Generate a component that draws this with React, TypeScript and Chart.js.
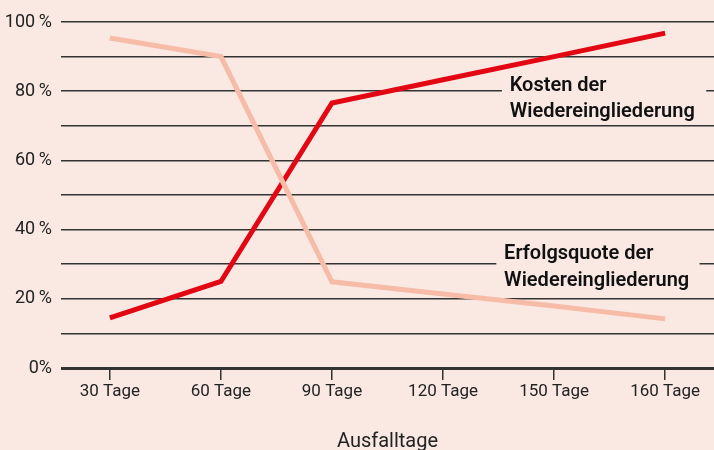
import React, { useEffect, useRef } from "react";
import { Chart, registerables } from "chart.js";

Chart.register(...registerables);

const categories = ["30 Tage", "60 Tage", "90 Tage", "120 Tage", "150 Tage", "160 Tage"];
const kosten = [14.5, 25, 76.6, 83.3, 90.0, 96.8];
const erfolg = [95.4, 90, 24.9, 21.4, 17.9, 14.2];
const yTickValues = [0, 20, 40, 60, 80, 100];
const kostenLabel = ["Kosten der", "Wiedereingliederung"];
const erfolgLabel = ["Erfolgsquote der", "Wiedereingliederung"];

const FONT = "Roboto, 'Noto Sans', sans-serif";
const BG = "#f9e9e2";

const labelPlugin = {
  id: "seriesLabels",
  beforeDatasetsDraw(chart: any) {
    const { ctx, scales } = chart;
    const x = scales.x;
    const y = scales.y;
    const drawLabel = (lines: string[], xStart: number, xEnd: number, yGrid: number, textX: number, off1: number, off2: number) => {
      const gy = y.getPixelForValue(yGrid);
      ctx.save();
      ctx.fillStyle = BG;
      ctx.fillRect(x.getPixelForValue(xStart), gy - 14, x.getPixelForValue(xEnd) - x.getPixelForValue(xStart), 30);
      ctx.fillStyle = "#111";
      ctx.font = `600 20px ${FONT}`;
      ctx.textBaseline = "middle";
      ctx.textAlign = "left";
      const tx = x.getPixelForValue(textX);
      ctx.fillText(lines[0], tx, gy + off1);
      ctx.fillText(lines[1], tx, gy + off2);
      ctx.restore();
    };
    drawLabel(kostenLabel, 3.53, 5.37, 80, 3.6, -5, 21);
    drawLabel(erfolgLabel, 3.48, 5.31, 30, 3.55, -10, 17);
  },
};

export default function App() {
  const ref = useRef<HTMLCanvasElement | null>(null);
  useEffect(() => {
    if (!ref.current) return;
    const chart = new Chart(ref.current, {
      type: "line",
      data: {
        datasets: [
          {
            label: "Erfolgsquote der Wiedereingliederung",
            data: erfolg.map((v, i) => ({ x: i, y: v })),
            borderColor: "#f7bca8",
            borderWidth: 5,
            pointRadius: 0,
            fill: false,
            tension: 0,
          },
          {
            label: "Kosten der Wiedereingliederung",
            data: kosten.map((v, i) => ({ x: i, y: v })),
            borderColor: "#e30613",
            borderWidth: 5,
            pointRadius: 0,
            fill: false,
            tension: 0,
          },
        ],
      },
      options: {
        animation: false,
        responsive: false,
        maintainAspectRatio: false,
        layout: { padding: { top: 22, left: 0, right: 0, bottom: 0 } },
        plugins: { legend: { display: false }, tooltip: { enabled: false } },
        scales: {
          x: {
            type: "linear",
            min: -0.44,
            max: 5.44,
            afterBuildTicks: (s: any) => {
              s.ticks = categories.map((_, i) => ({ value: i }));
            },
            afterFit: (s: any) => {
              s.height = 82;
            },
            border: { display: false },
            grid: {
              drawOnChartArea: false,
              drawTicks: true,
              tickLength: 12,
              color: "#333",
              lineWidth: 1.5,
            },
            ticks: {
              autoSkip: false,
              maxRotation: 0,
              padding: 2,
              color: "#222",
              font: { family: FONT, size: 17 },
              callback: (v: any) => categories[v] ?? "",
            },
            title: {
              display: true,
              text: "Ausfalltage",
              color: "#222",
              font: { family: FONT, size: 20, lineHeight: 0.8 },
              padding: { top: 0, bottom: 0 },
            },
          },
          y: {
            min: 0,
            max: 100,
            afterBuildTicks: (s: any) => {
              const t = [];
              for (let v = 0; v <= 100; v += 10) t.push({ value: v });
              s.ticks = t;
            },
            afterFit: (s: any) => {
              s.width = 61;
            },
            border: { display: false },
            grid: {
              drawTicks: false,
              color: "#333",
              lineWidth: (c: any) => (c.tick && c.tick.value === 0 ? 3 : 1.5),
            },
            ticks: {
              padding: 9,
              color: "#222",
              font: { family: FONT, size: 18 },
              callback: (v: any) =>
                yTickValues.includes(v) ? (v === 0 ? "0%" : `${v}\u2009%`) : "",
            },
          },
        },
      },
      plugins: [labelPlugin],
    });
    return () => chart.destroy();
  }, []);
  return (
    <div style={{ position: "fixed", left: 0, top: 0, width: 714, height: 450, background: BG }}>
      <canvas ref={ref} width={714} height={450} style={{ display: "block" }} />
    </div>
  );
}
